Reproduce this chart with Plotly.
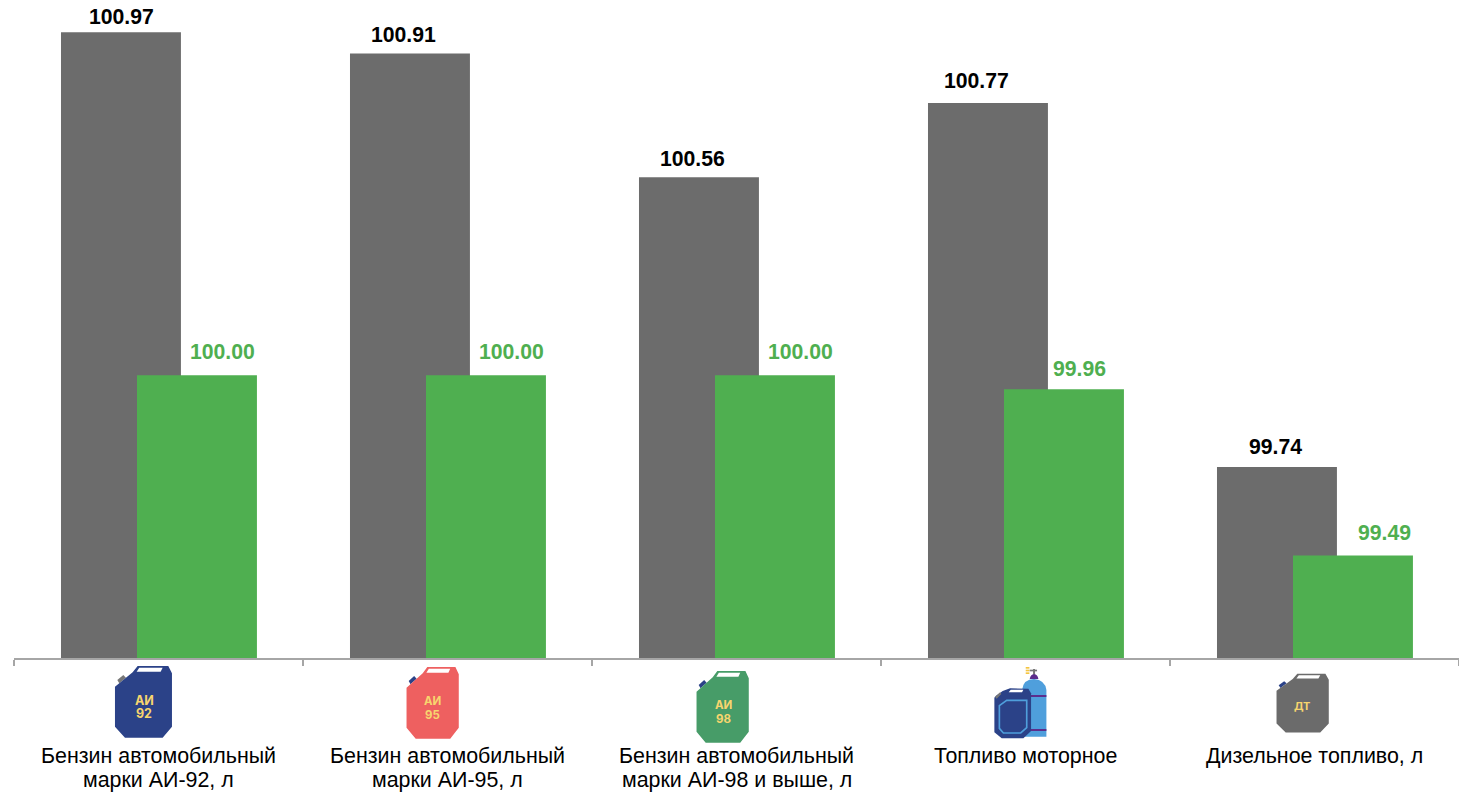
import base64
import plotly.graph_objects as go

categories = ["Бензин автомобильный<br>марки АИ-92, л", "Бензин автомобильный<br>марки АИ-95, л",
              "Бензин автомобильный<br>марки АИ-98 и выше, л", "Топливо моторное", "Дизельное топливо, л"]
gray_values = [100.97, 100.91, 100.56, 100.77, 99.74]
green_values = [100.00, 100.00, 100.00, 99.96, 99.49]

GRAY = "#6c6c6c"
GREEN = "#4faf50"
W, H = 1459, 794
L, R, T, B = 14, 0, 0, 136
AXIS_BOTTOM = 99.2
AXIS_TOP = 101.061

gray_label_dx = [1, -6, -6, -11, -1]
gray_label_dy = [16, 19, 19, 22, 21]
green_label_dx = [26, 26, 26, 16, 32]
green_label_dy = [24, 24, 24, 21, 23]


def px(x):
    return (x - L) / (W - L - R)


def py(y):
    return (H - B - y) / (H - T - B)


def can(fill, cap, body_extra=""):
    return (
        f'<polygon points="82,75 100,60 108,68 88,85" fill="{cap}"/>'
        f'<polygon points="75,95 128,52 143,33 235,33 246,55 246,215 218,248 105,248 75,215" fill="{fill}"/>'
        '<polygon points="140,50 148,38 218,38 212,50" fill="#ffffff"/>'
        + body_extra
    )


def svg_uri(view, body):
    svg = f'<svg xmlns="http://www.w3.org/2000/svg" viewBox="{view}">{body}</svg>'
    return "data:image/svg+xml;base64," + base64.b64encode(svg.encode()).decode()


CAN_VIEW = "70 30 180 220"
combo = (
    '<rect x="197" y="36" width="11" height="5" fill="#f4c542"/>'
    '<rect x="197" y="44" width="11" height="5" fill="#f4c542"/>'
    '<rect x="197" y="52" width="11" height="5" fill="#f4c542"/>'
    '<rect x="209" y="44" width="22" height="5" fill="#777777"/>'
    '<rect x="219" y="42" width="6" height="18" fill="#777777"/>'
    '<path d="M209,72 Q211,58 222,58 Q233,58 235,72 Z" fill="#5c2d8c"/>'
    '<path d="M186,245 L186,105 Q190,72 222,72 Q255,75 259,105 L259,245 Z" fill="#4f9fdc"/>'
    '<rect x="186" y="120" width="73" height="6" fill="#5c2d8c"/>'
    '<rect x="186" y="222" width="73" height="6" fill="#5c2d8c"/>'
    '<polygon points="103,128 108,122 128,108 150,100 205,101 213,115 213,228 190,250 125,250 103,232" fill="#2b4288"/>'
    '<polygon points="146,112 152,104 190,104 186,112" fill="#ffffff"/>'
    '<polygon points="105,126 120,112 124,117 110,131" fill="#777777"/>'
    '<polygon points="118,152 140,136 200,136 200,218 182,234 130,234 118,220" fill="none" stroke="#4f9fdc" stroke-width="5"/>'
)

icons = [
    (svg_uri(CAN_VIEW, can("#2b4288", "#777777")), 113.3, 665.0, 60, 73.3),
    (svg_uri(CAN_VIEW, can("#ee6060", "#2b4288")), 405.0, 666.0, 55, 73.3),
    (svg_uri(CAN_VIEW, can("#479c68", "#2b4288")), 695.0, 670.0, 55, 73.3),
    (svg_uri("95 30 170 225", combo), 991.7, 665.0, 56.7, 75.0),
    (svg_uri(CAN_VIEW, can("#6b6b6b", "#2b4288")), 1275.0, 673.0, 55, 60.0),
]
icon_captions = [
    ("АИ", 144, 700, 12.5), ("92", 144, 714, 12.5),
    ("АИ", 432, 701, 11.5), ("95", 432, 715, 11.5),
    ("АИ", 723, 705, 11.5), ("98", 723, 719, 11.5),
    ("ДТ", 1302, 706, 11),
]

fig = go.Figure()
fig.add_bar(x=categories, y=gray_values, marker=dict(color=GRAY, line_width=0), width=0.415, offset=-0.3374, name="Серия 1")
fig.add_bar(x=categories, y=green_values, marker=dict(color=GREEN, line_width=0), width=0.415, offset=-0.0744, name="Серия 2")

annotations = []
for i in range(len(categories)):
    annotations.append(dict(x=i - 0.3374 + 0.2075, y=gray_values[i], xref="x", yref="y",
                            text=f"<b>{gray_values[i]:.2f}</b>", showarrow=False,
                            xshift=gray_label_dx[i], yshift=gray_label_dy[i],
                            xanchor="center", yanchor="middle",
                            font=dict(color="#000000", size=21.2)))
    annotations.append(dict(x=i - 0.0744 + 0.2075, y=green_values[i], xref="x", yref="y",
                            text=f"<b>{green_values[i]:.2f}</b>", showarrow=False,
                            xshift=green_label_dx[i], yshift=green_label_dy[i],
                            xanchor="center", yanchor="middle",
                            font=dict(color=GREEN, size=21.2)))
    lines = categories[i].split("<br>")
    for j, line in enumerate(lines):
        annotations.append(dict(x=i, y=py(756 + j * 24), xref="x", yref="paper", text=line, showarrow=False,
                                xanchor="center", yanchor="middle",
                                font=dict(color="#000000", size=21.4)))
for text, x, y, size in icon_captions:
    annotations.append(dict(x=px(x), y=py(y), xref="paper", yref="paper", text=f"<b>{text}</b>",
                            xanchor="center", yanchor="middle", showarrow=False,
                            font=dict(family="Inter, Liberation Sans, sans-serif", color="#f7d56e", size=size)))

images = [dict(source=src, xref="paper", yref="paper", x=px(x), y=py(y),
               sizex=w / (W - L - R), sizey=h / (H - T - B), xanchor="left", yanchor="top",
               sizing="stretch", layer="above")
          for src, x, y, w, h in icons]

fig.update_layout(
    width=W, height=H, autosize=False,
    margin=dict(l=L, r=R, t=T, b=B, pad=0),
    barmode="overlay", showlegend=False,
    paper_bgcolor="#ffffff", plot_bgcolor="#ffffff",
    font=dict(family="Liberation Sans, Arial, sans-serif", color="#000000", size=21),
    annotations=annotations, images=images,
    xaxis=dict(type="category", range=[-0.5, 4.5], tickson="boundaries", ticks="outside", ticklen=6,
               tickwidth=2, tickcolor="#a6a6a6", showline=True, linecolor="#a6a6a6", linewidth=2,
               showgrid=False, zeroline=False, showticklabels=False),
    yaxis=dict(range=[AXIS_BOTTOM, AXIS_TOP], visible=False, showgrid=False, zeroline=False),
)
fig.write_html("out.html", config=dict(displayModeBar=False),
               post_script="document.body.style.margin='0';document.documentElement.style.overflow='hidden';")
